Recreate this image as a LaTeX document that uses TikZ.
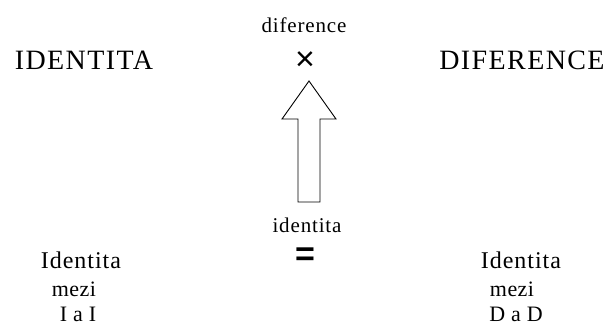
\documentclass[tikz,border=0pt]{standalone}
\usepackage{fontspec}
\setmainfont{Liberation Serif}
\newfontfamily\symfont{Liberation Sans}
\usepackage{tikz}
\usetikzlibrary{positioning}

\begin{document}
\begin{tikzpicture}[
 x=1pt, y=-1pt,
 big/.style={inner sep=0pt, anchor=base, font=\fontsize{28}{30}\selectfont\addfontfeature{LetterSpace=5}},
 mid/.style={inner sep=0pt, anchor=base, font=\fontsize{24}{26}\selectfont\addfontfeature{LetterSpace=4}},
 sml/.style={inner sep=0pt, anchor=base, font=\fontsize{22}{24}\selectfont\addfontfeature{LetterSpace=2}},
 lbl/.style={inner sep=0pt, anchor=base, font=\fontsize{21}{23}\selectfont\addfontfeature{LetterSpace=4}},
 sym/.style={inner sep=0pt, font=\symfont\fontsize{34}{36}\selectfont},
 blockarrow/.style={draw, line width=0.9pt, fill=white}
]
\path[use as bounding box] (0,0) rectangle (611,325);

% top row
\node[big] (idtop) at (84,69) {IDENTITA};
\node[big] (diftop) at (522,69) {DIFERENCE};
\node[lbl] (diflbl) at (304,32) {diference};
\node[sym] (times) at (305,61) {×};

% arrow
\draw[blockarrow] (298,202) -- (298,119) -- (282,119) -- (309,81)
 -- (336,119) -- (320,119) -- (320,202) -- cycle;

% bottom row
\node[lbl] (idlbl) at (307,232) {identita};
\node[sym, font=\symfont\bfseries\fontsize{34}{36}\selectfont] (eq) at (305,257) {=};

\node[mid] (idleft) at (81,268) {Identita};
\node[sml] (mezileft) at (74,296) {mezi};
\node[sml] (iai) at (78,321) {I a I};

\node[mid] (idright) at (521,268) {Identita};
\node[sml] (meziright) at (512,296) {mezi};
\node[sml] (dad) at (516,321) {D a D};
\end{tikzpicture}
\end{document}
